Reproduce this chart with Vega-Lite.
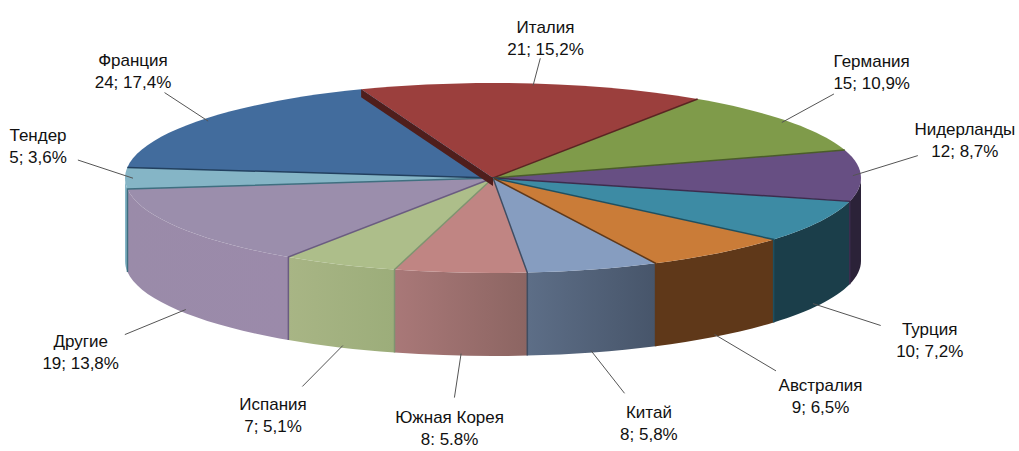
{
 "$schema":"https://vega.github.io/schema/vega-lite/v6.json",
 "width":1019,"height":451,"padding":0,"autosize":{"type":"none"},
 "background":"white",
 "config":{"view":{"stroke":null},"font":"Liberation Sans"},
 "resolve":{"scale":{"fill":"independent"}},
 "data":{"values":[
  {"order":1,"name":"Италия","count":21,"label":"21; 15,2%"},
  {"order":2,"name":"Германия","count":15,"label":"15; 10,9%"},
  {"order":3,"name":"Нидерланды","count":12,"label":"12; 8,7%"},
  {"order":4,"name":"Турция","count":10,"label":"10; 7,2%"},
  {"order":5,"name":"Австралия","count":9,"label":"9; 6,5%"},
  {"order":6,"name":"Китай","count":8,"label":"8; 5,8%"},
  {"order":7,"name":"Южная Корея","count":8,"label":"8: 5.8%"},
  {"order":8,"name":"Испания","count":7,"label":"7; 5,1%"},
  {"order":9,"name":"Другие","count":19,"label":"19; 13,8%"},
  {"order":10,"name":"Тендер","count":5,"label":"5; 3,6%"},
  {"order":11,"name":"Франция","count":24,"label":"24; 17,4%"}
 ]},
 "transform":[
  {"joinaggregate":[{"op":"sum","field":"count","as":"total"}]},
  {"window":[{"op":"sum","field":"count","as":"cum"}],"sort":[{"field":"order"}]},
  {"calculate":"-21+datum.cum/datum.total*360","as":"a1"},
  {"calculate":"datum.a1-datum.count/datum.total*360","as":"a0"},
  {"calculate":"round(368*sin(datum.a0*PI/180)*100)/100","as":"x0"},
  {"calculate":"round(-95*cos(datum.a0*PI/180)*100)/100","as":"y0"},
  {"calculate":"round(368*sin(datum.a1*PI/180)*100)/100","as":"x1"},
  {"calculate":"round(-95*cos(datum.a1*PI/180)*100)/100","as":"y1"},
  {"calculate":"'M0,0 L'+datum.x0+','+datum.y0+' A368,95 0 0 1 '+datum.x1+','+datum.y1+' Z'","as":"topPath"},
  {"calculate":"max(datum.a0,90)","as":"w0"},
  {"calculate":"min(datum.a1,270)","as":"w1"},
  {"calculate":"round(368*sin(datum.w0*PI/180)*100)/100","as":"wx0"},
  {"calculate":"round(-95*cos(datum.w0*PI/180)*100)/100","as":"wy0"},
  {"calculate":"round(368*sin(datum.w1*PI/180)*100)/100","as":"wx1"},
  {"calculate":"round(-95*cos(datum.w1*PI/180)*100)/100","as":"wy1"},
  {"calculate":"'M'+datum.wx0+','+datum.wy0+' A368,95 0 0 1 '+datum.wx1+','+datum.wy1+' L'+datum.wx1+','+(datum.wy1+83)+' A368,95 0 0 0 '+datum.wx0+','+(datum.wy0+83)+' Z'","as":"wallPath"},
  {"calculate":"datum.a1<=180?datum.a1:(datum.a0>=180?datum.a0:-999)","as":"edge"},
  {"calculate":"round(368*sin(datum.edge*PI/180)*100)/100","as":"ex"},
  {"calculate":"round(-95*cos(datum.edge*PI/180)*100)/100","as":"ey"},
  {"calculate":"'M0,0 L'+datum.ex+','+datum.ey+((datum.edge>90&&datum.edge<270)?' L'+datum.ex+','+(datum.ey+83):'')","as":"edgePath"},
  {"calculate":"'M0,0 L'+datum.x0+','+datum.y0+' L'+datum.x0+','+(datum.y0+8)+' L0,8 Z'","as":"stripPath"},
  {"calculate":"(datum.a0+datum.a1)/2*PI/180","as":"mid"},
  {"calculate":"sin(datum.mid)","as":"s"},
  {"calculate":"cos(datum.mid)","as":"c"},
  {"calculate":"360*datum.s","as":"sx"},
  {"calculate":"-93*datum.c+(datum.c<-0.1?83:0)","as":"sy"},
  {"calculate":"datum.c>-0.1?(datum.s>0?472:455)*datum.s:6+465*(1.2*datum.s-0.2*pow(datum.s,3))","as":"lx"},
  {"calculate":"datum.c>-0.1?-(110*pow(abs(datum.c),0.75)+30):52+200*pow(abs(datum.c),0.75)","as":"ly"},
  {"calculate":"datum.ly-11","as":"ty"},
  {"calculate":"datum.sx+0.58*(datum.lx-datum.sx)","as":"ex2"},
  {"calculate":"datum.sy+0.58*(datum.ly-datum.sy)","as":"ey2"},
  {"calculate":"datum.name+'\\n'+datum.label","as":"full"}
 ],
 "layer":[
  {"transform":[{"filter":"datum.w1>datum.w0 && indexof(['Нидерланды','Турция','Австралия','Тендер'],datum.name)>=0"}],
   "mark":{"type":"point","filled":true,"opacity":1,"size":4,"strokeWidth":0},
   "encoding":{
    "x":{"datum":0,"type":"quantitative","scale":{"domain":[-493,526],"nice":false,"zero":false},"axis":null},
    "y":{"datum":0,"type":"quantitative","scale":{"domain":[-178,273],"reverse":true,"nice":false,"zero":false},"axis":null},
    "shape":{"field":"wallPath","type":"nominal","scale":null,"legend":null},
    "fill":{"field":"name","type":"nominal","legend":null,"scale":{
     "domain":["Нидерланды","Турция","Австралия","Тендер"],
     "range":["#2b2238","#1b3e4a","#5f3819","#85b5c6"]}}
   }},
  {"transform":[{"filter":"datum.name==='Китай'"}],
   "mark":{"type":"point","filled":true,"opacity":1,"size":4,"strokeWidth":0,
    "fill":{"gradient":"linear","x1":0,"y1":0,"x2":1,"y2":0,"stops":[{"offset":0,"color":"#5d6e87"},{"offset":1,"color":"#47556a"}]}},
   "encoding":{"x":{"datum":0,"type":"quantitative"},"y":{"datum":0,"type":"quantitative"},
    "shape":{"field":"wallPath","type":"nominal","scale":null,"legend":null}}},
  {"transform":[{"filter":"datum.name==='Южная Корея'"}],
   "mark":{"type":"point","filled":true,"opacity":1,"size":4,"strokeWidth":0,
    "fill":{"gradient":"linear","x1":0,"y1":0,"x2":1,"y2":0,"stops":[{"offset":0,"color":"#a97878"},{"offset":1,"color":"#8c6562"}]}},
   "encoding":{"x":{"datum":0,"type":"quantitative"},"y":{"datum":0,"type":"quantitative"},
    "shape":{"field":"wallPath","type":"nominal","scale":null,"legend":null}}},
  {"transform":[{"filter":"datum.name==='Испания'"}],
   "mark":{"type":"point","filled":true,"opacity":1,"size":4,"strokeWidth":0,
    "fill":{"gradient":"linear","x1":0,"y1":0,"x2":1,"y2":0,"stops":[{"offset":0,"color":"#a8b585"},{"offset":1,"color":"#9cad7a"}]}},
   "encoding":{"x":{"datum":0,"type":"quantitative"},"y":{"datum":0,"type":"quantitative"},
    "shape":{"field":"wallPath","type":"nominal","scale":null,"legend":null}}},
  {"transform":[{"filter":"datum.name==='Другие'"}],
   "mark":{"type":"point","filled":true,"opacity":1,"size":4,"strokeWidth":0,
    "fill":{"gradient":"linear","x1":0,"y1":0,"x2":1,"y2":0,"stops":[{"offset":0,"color":"#9a8ba9"},{"offset":1,"color":"#9b8aaa"}]}},
   "encoding":{"x":{"datum":0,"type":"quantitative"},"y":{"datum":0,"type":"quantitative"},
    "shape":{"field":"wallPath","type":"nominal","scale":null,"legend":null}}},
  {"mark":{"type":"point","filled":true,"opacity":1,"size":4,"strokeWidth":0},
   "encoding":{
    "x":{"datum":0,"type":"quantitative"},
    "y":{"datum":0,"type":"quantitative"},
    "shape":{"field":"topPath","type":"nominal","scale":null,"legend":null},
    "fill":{"field":"name","type":"nominal","legend":null,"scale":{
     "domain":["Италия","Германия","Нидерланды","Турция","Австралия","Китай","Южная Корея","Испания","Другие","Тендер","Франция"],
     "range":["#9b3f3d","#7f9b4a","#674f83","#3d8ba4","#ca7c38","#869dc0","#c08583","#adbe8a","#9b8eac","#85b5c6","#426c9d"]}}
   }},
  {"transform":[{"filter":"datum.edge>-999"}],
   "mark":{"type":"point","filled":false,"opacity":1,"size":4,"strokeWidth":1.5},
   "encoding":{
    "x":{"datum":0,"type":"quantitative"},
    "y":{"datum":0,"type":"quantitative"},
    "shape":{"field":"edgePath","type":"nominal","scale":null,"legend":null},
    "stroke":{"field":"name","type":"nominal","legend":null,"scale":{
     "domain":["Италия","Германия","Нидерланды","Турция","Австралия","Китай","Испания","Другие","Тендер","Франция"],
     "range":["#5a2422","#4a5c2a","#3c2d4e","#1f4f5f","#5f3819","#3f4d62","#7f9470","#6a5c80","#3f6f80","#22405f"]}}
   }},
  {"transform":[{"filter":"datum.name==='Италия'"}],
   "mark":{"type":"point","filled":true,"opacity":1,"size":4,"strokeWidth":0,"fill":"#4f1e1c"},
   "encoding":{
    "x":{"datum":0,"type":"quantitative"},
    "y":{"datum":0,"type":"quantitative"},
    "shape":{"field":"stripPath","type":"nominal","scale":null,"legend":null}
   }},
  {"mark":{"type":"rule","color":"#555555","strokeWidth":1},
   "encoding":{
    "x":{"field":"sx","type":"quantitative"},
    "y":{"field":"sy","type":"quantitative"},
    "x2":{"field":"ex2"},
    "y2":{"field":"ey2"}
   }},
  {"mark":{"type":"text","fontSize":17,"align":"center","baseline":"middle","lineBreak":"\n","lineHeight":22,"color":"#111111"},
   "encoding":{
    "x":{"field":"lx","type":"quantitative"},
    "y":{"field":"ty","type":"quantitative"},
    "text":{"field":"full","type":"nominal"}
   }}
 ]
}
